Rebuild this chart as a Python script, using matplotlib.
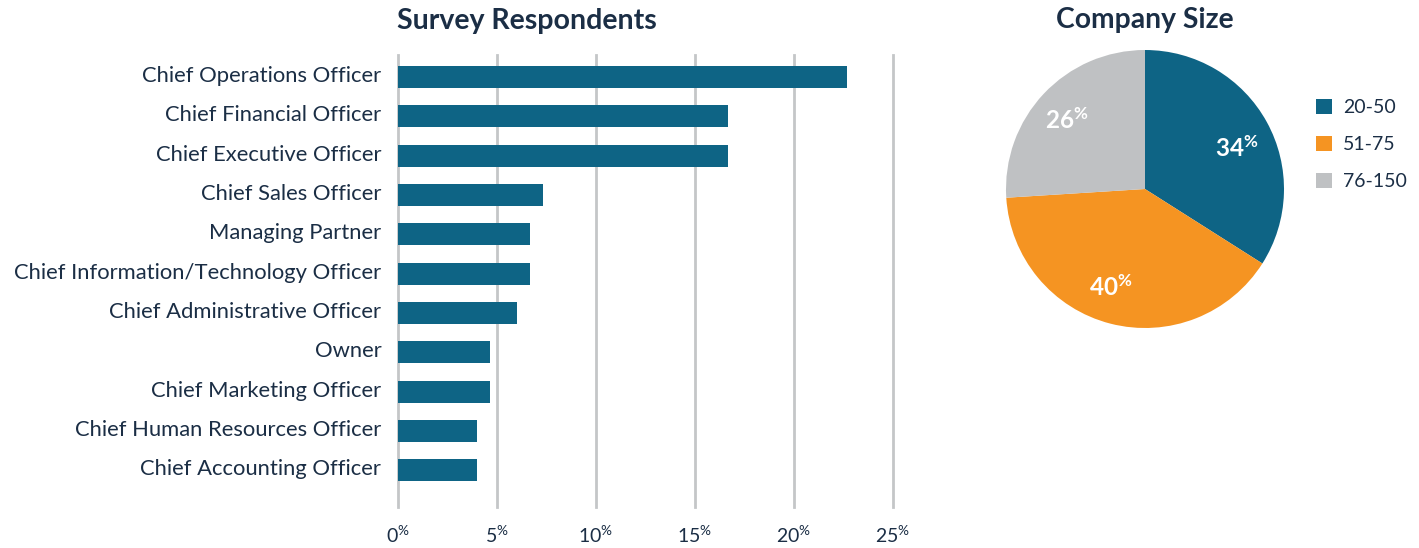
import matplotlib
matplotlib.use("Agg")
import matplotlib.pyplot as plt
import matplotlib.transforms as mtransforms
from matplotlib.patches import Patch
import numpy as np

# Respondent roles and share of respondents (%)
roles = [
    "Chief Operations Officer",
    "Chief Financial Officer",
    "Chief Executive Officer",
    "Chief Sales Officer",
    "Managing Partner",
    "Chief Information/Technology Officer",
    "Chief Administrative Officer",
    "Owner",
    "Chief Marketing Officer",
    "Chief Human Resources Officer",
    "Chief Accounting Officer",
]
role_share = [22.67, 16.67, 16.67, 7.33, 6.67, 6.67, 6.0, 4.67, 4.67, 4.0, 4.0]
x_ticks = [0, 5, 10, 15, 20, 25]

# Company size breakdown (%)
size_labels = ["20-50", "51-75", "76-150"]
size_share = [34, 40, 26]

BLUE = "#0E6485"
ORANGE = "#F59422"
GREY = "#BFC1C3"
TEXT = "#1B2E45"
GRID = "#C4C6C8"

plt.rcParams["font.family"] = ["Lato", "DejaVu Sans"]
plt.rcParams["mathtext.fontset"] = "custom"
plt.rcParams["mathtext.rm"] = "Lato"
plt.rcParams["mathtext.bf"] = "Lato:bold"

fig = plt.figure(figsize=(14.19, 5.48), dpi=100)

# ---- Bar chart ----
ax = fig.add_axes([398 / 1419, 1 - 507 / 548, (893 - 398) / 1419, (507 - 55) / 548])
ypos = list(range(len(roles)))
ax.barh(ypos, role_share, height=0.56, color=BLUE, zorder=3)
ax.set_xlim(0, 25)
ax.set_ylim(10.93, -0.56)
ax.set_yticks(ypos)
ax.set_yticklabels(roles, fontsize=15.8, color=TEXT)
ax.set_xticks(x_ticks)
ax.set_xticklabels([r"$\mathregular{%d^{\%%}}$" % t for t in x_ticks],
                   fontsize=14, color=TEXT)
ax.tick_params(axis="y", length=0, pad=12)
ax.tick_params(axis="x", length=0, pad=13)
lift = mtransforms.ScaledTranslation(0, 3 / 100, fig.dpi_scale_trans)
for lbl in ax.get_yticklabels():
    lbl.set_transform(lbl.get_transform() + lift)
for t in x_ticks:
    ax.axvline(t, color=GRID, lw=2, zorder=1, clip_on=False)
for s in ax.spines.values():
    s.set_visible(False)
ax.set_title("Survey Respondents", loc="left", fontsize=20.5, fontweight="bold",
             color=TEXT, pad=19, x=-0.002)

# ---- Pie chart ----
pax = fig.add_axes([(1145 - 139) / 1419, 1 - (189 + 139) / 548, 278 / 1419, 278 / 548])
wedges, texts = pax.pie(size_share, colors=[BLUE, ORANGE, GREY], startangle=90,
                        counterclock=False, radius=1.0)
label_r = [0.72, 0.75, 0.75]
angle_shift = [-5, -5, 2]
angle = 90.0
for v, r, shift in zip(size_share, label_r, angle_shift):
    mid = np.deg2rad(angle - v * 3.6 / 2 + shift)
    angle -= v * 3.6
    pax.text(r * np.cos(mid), r * np.sin(mid), r"$\mathbf{%d^{\%%}}$" % v,
             ha="center", va="center", color="white", fontsize=17.5)
pax.set_xlim(-1, 1)
pax.set_ylim(-1, 1)
pax.set_aspect("equal")
pax.set_title("Company Size", fontsize=20.3, fontweight="bold", color=TEXT, pad=16)

handles = [Patch(facecolor=c) for c in [BLUE, ORANGE, GREY]]
leg = fig.legend(handles, size_labels, loc="upper left",
                 bbox_to_anchor=(1316 / 1419, 1 - 99 / 548), frameon=False,
                 fontsize=14, handlelength=0.82, handleheight=0.82,
                 labelspacing=1.0, handletextpad=0.57, labelcolor=TEXT,
                 borderpad=0, borderaxespad=0)

fig.savefig("out.png", dpi=100)
